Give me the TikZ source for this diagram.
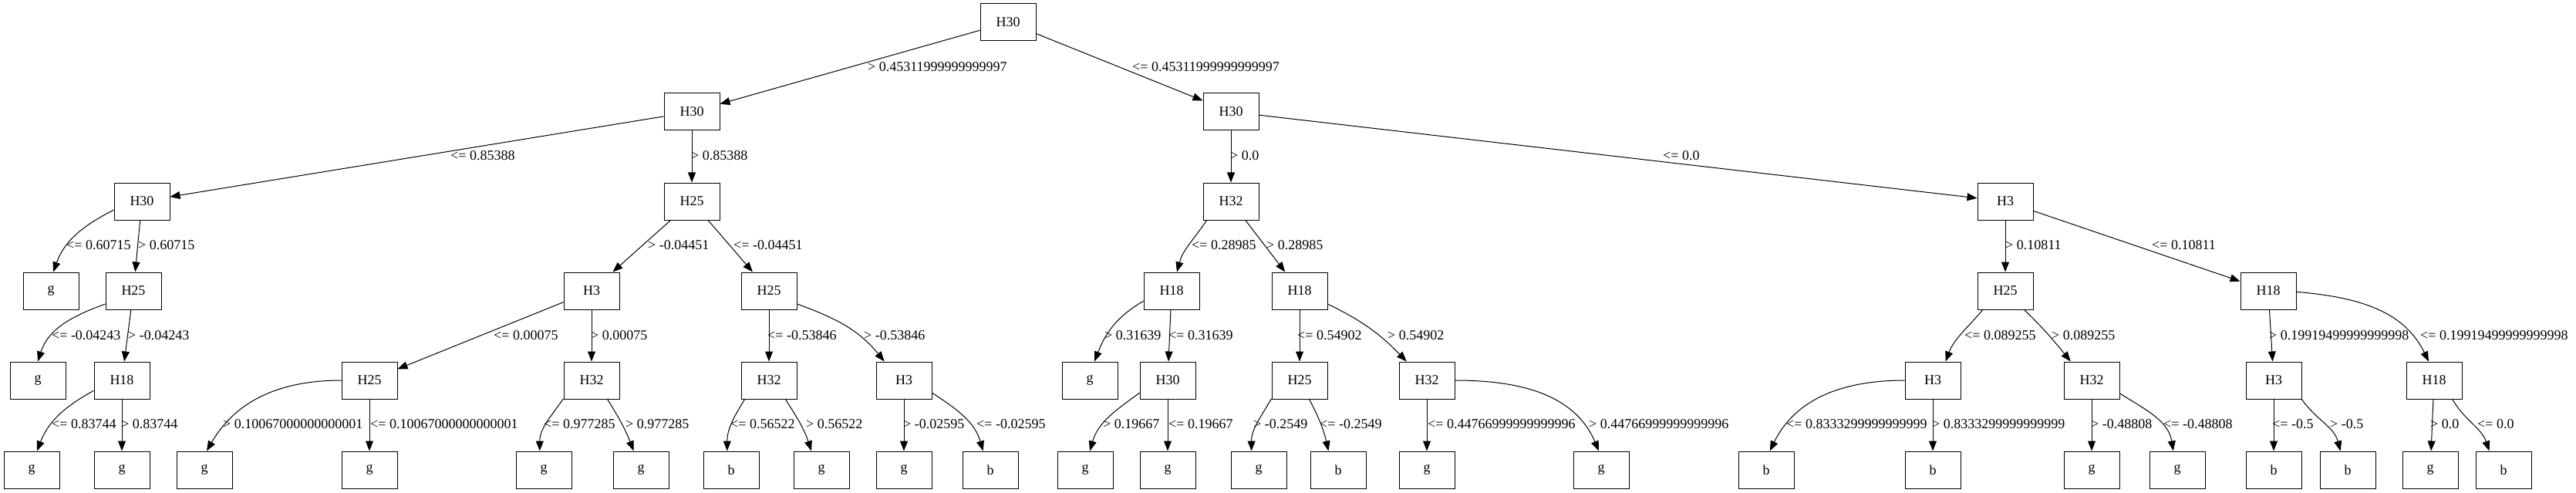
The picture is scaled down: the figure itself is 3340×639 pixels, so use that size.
\documentclass[tikz,border=0pt]{standalone}
\usepackage{fontspec}
\setmainfont{Liberation Serif}
\usetikzlibrary{arrows.meta}

\begin{document}
\begin{tikzpicture}[x=1pt,y=1pt,
		every node/.style={font=\fontsize{18}{21}\selectfont},
		box/.style={draw,rectangle,minimum width=72pt,minimum height=48pt,inner sep=0pt,line width=1pt},
		lbl/.style={anchor=west,inner sep=0pt},
		edge/.style={-{Triangle[length=13pt,width=10pt]},line width=1pt}]
		\useasboundingbox (0,0) rectangle (3340,-639);
		% tree nodes
		\node[box] (root) at (1307,-29) {H30};
		\node[box] (l1a) at (897,-145) {H30};
		\node[box] (l1b) at (1596,-145) {H30};
		\node[box] (l2a) at (184,-261) {H30};
		\node[box] (l2b) at (897,-261) {H25};
		\node[box] (l2c) at (1596,-261) {H32};
		\node[box] (l2d) at (2600,-261) {H3};
		\node[box] (l3a) at (66,-377) {g};
		\node[box] (l3b) at (173,-377) {H25};
		\node[box] (l3c) at (767,-377) {H3};
		\node[box] (l3d) at (997,-377) {H25};
		\node[box] (l3e) at (1519,-377) {H18};
		\node[box] (l3f) at (1685,-377) {H18};
		\node[box] (l3g) at (2600,-377) {H25};
		\node[box] (l3h) at (2941,-377) {H18};
		\node[box] (l4a) at (49,-493) {g};
		\node[box] (l4b) at (158,-493) {H18};
		\node[box] (l4c) at (479,-493) {H25};
		\node[box] (l4d) at (767,-493) {H32};
		\node[box] (l4e) at (997,-493) {H32};
		\node[box] (l4f) at (1172,-493) {H3};
		\node[box] (l4g) at (1413,-493) {g};
		\node[box] (l4h) at (1514,-493) {H30};
		\node[box] (l4i) at (1685,-493) {H25};
		\node[box] (l4j) at (1850,-493) {H32};
		\node[box] (l4k) at (2506,-493) {H3};
		\node[box] (l4l) at (2712,-493) {H32};
		\node[box] (l4m) at (2948,-493) {H3};
		\node[box] (l4n) at (3156,-493) {H18};
		\node[box] (l5a) at (41,-609) {g};
		\node[box] (l5b) at (158,-609) {g};
		\node[box] (l5c) at (265,-609) {g};
		\node[box] (l5d) at (479,-609) {g};
		\node[box] (l5e) at (705,-609) {g};
		\node[box] (l5f) at (831,-609) {g};
		\node[box] (l5g) at (948,-609) {b};
		\node[box] (l5h) at (1065,-609) {g};
		\node[box] (l5i) at (1172,-609) {g};
		\node[box] (l5j) at (1284,-609) {b};
		\node[box] (l5k) at (1407,-609) {g};
		\node[box] (l5l) at (1514,-609) {g};
		\node[box] (l5m) at (1632,-609) {g};
		\node[box] (l5n) at (1735,-609) {b};
		\node[box] (l5o) at (1850,-609) {g};
		\node[box] (l5p) at (2076,-609) {g};
		\node[box] (l5q) at (2290,-609) {b};
		\node[box] (l5r) at (2506,-609) {b};
		\node[box] (l5s) at (2712,-609) {g};
		\node[box] (l5t) at (2823,-609) {g};
		\node[box] (l5u) at (2948,-609) {b};
		\node[box] (l5v) at (3044,-609) {b};
		\node[box] (l5w) at (3151,-609) {g};
		\node[box] (l5x) at (3246,-609) {b};
		% edges
		\draw[edge] (root) -- (l1a);
		\draw[edge] (root) -- (l1b);
		\draw[edge] (l1a) -- (l2a);
		\draw[edge] (l1a) -- (l2b);
		\draw[edge] (l1b) -- (l2c);
		\draw[edge] (l1b) -- (l2d);
		\draw[edge] (l2a.197) to[out=207,in=70] (l3a.83);
		\draw[edge] (l2a) -- (l3b);
		\draw[edge] (l2b) -- (l3c);
		\draw[edge] (l2b) -- (l3d);
		\draw[edge] (l2c.218) to[out=236,in=75] (l3e.74);
		\draw[edge] (l2c) -- (l3f);
		\draw[edge] (l2d) -- (l3g);
		\draw[edge] (l2d) -- (l3h);
		\draw[edge] (l3b.205) to[out=200,in=72] (l4a.north);
		\draw[edge] (l3b) -- (l4b);
		\draw[edge] (l3c) -- (l4c);
		\draw[edge] (l3c) -- (l4d);
		\draw[edge] (l3d) -- (l4e);
		\draw[edge] (l3d.335) to[out=340,in=129] (l4f.136);
		\draw[edge] (l3e.200) to[out=210,in=69] (l4g.76);
		\draw[edge] (l3e) -- (l4h);
		\draw[edge] (l3f) -- (l4i);
		\draw[edge] (l3f.335) to[out=334,in=134] (l4j.137);
		\draw[edge] (l3g.220) to[out=230,in=69] (l4k.56);
		\draw[edge] (l3g.315) to[out=316,in=129] (l4l.138);
		\draw[edge] (l3h) -- (l4m);
		\draw[edge] (l3h.358) to[out=355,in=116] (l4n.106);
		\draw[edge] (l4b.200) to[out=209,in=69] (l5a.74);
		\draw[edge] (l4b) -- (l5b);
		\draw[edge] (l4c.west) to[out=180,in=60] (l5c.83);
		\draw[edge] (l4c) -- (l5d);
		\draw[edge] (l4d.213) to[out=235,in=90] (l5e.102);
		\draw[edge] (l4d.310) to[out=302,in=111] (l5f.111);
		\draw[edge] (l4e.218) to[out=238,in=90] (l5g.102);
		\draw[edge] (l4e.311) to[out=303,in=108] (l5h.118);
		\draw[edge] (l4f) -- (l5i);
		\draw[edge] (l4f.336) to[out=327,in=106] (l5j.111);
		\draw[edge] (l4h.204) to[out=216,in=74] (l5k.76);
		\draw[edge] (l4h) -- (l5l);
		\draw[edge] (l4i.213) to[out=240,in=90] (l5m.111);
		\draw[edge] (l4i.297) to[out=298,in=103] (l5n.117);
		\draw[edge] (l4j) -- (l5o);
		\draw[edge] (l4j.east) to[out=0,in=113] (l5p.97);
		\draw[edge] (l4k.west) to[out=180,in=64] (l5q.79);
		\draw[edge] (l4k) -- (l5r);
		\draw[edge] (l4l) -- (l5s);
		\draw[edge] (l4l.335) to[out=328,in=99] (l5t.102);
		\draw[edge] (l4m) -- (l5u);
		\draw[edge] (l4m.326) to[out=305,in=105] (l5v.111);
		\draw[edge] (l4n) -- (l5w);
		\draw[edge] (l4n.314) to[out=300,in=109] (l5x.127);
		% split labels
		\node[lbl] (t1a) at (1125,-87) {> 0.45311999999999997};
		\node[lbl] (t1b) at (1468,-87) {<= 0.45311999999999997};
		\node[lbl] (t2a) at (584,-202) {<= 0.85388};
		\node[lbl] (t2b) at (896,-202) {> 0.85388};
		\node[lbl] (t2c) at (1595,-202) {> 0.0};
		\node[lbl] (t2d) at (2156,-202) {<= 0.0};
		\node[lbl] (t3a) at (86,-318) {<= 0.60715};
		\node[lbl] (t3b) at (179,-318) {> 0.60715};
		\node[lbl] (t3c) at (840,-318) {> -0.04451};
		\node[lbl] (t3d) at (951,-318) {<= -0.04451};
		\node[lbl] (t3e) at (1545,-318) {<= 0.28985};
		\node[lbl] (t3f) at (1642,-318) {> 0.28985};
		\node[lbl] (t3g) at (2600,-318) {> 0.10811};
		\node[lbl] (t3h) at (2790,-318) {<= 0.10811};
		\node[lbl] (t4a) at (67,-435) {<= -0.04243};
		\node[lbl] (t4b) at (166,-435) {> -0.04243};
		\node[lbl] (t4c) at (640,-435) {<= 0.00075};
		\node[lbl] (t4d) at (766,-435) {> 0.00075};
		\node[lbl] (t4e) at (995,-435) {<= -0.53846};
		\node[lbl] (t4f) at (1120,-435) {> -0.53846};
		\node[lbl] (t4g) at (1432,-435) {> 0.31639};
		\node[lbl] (t4h) at (1515,-435) {<= 0.31639};
		\node[lbl] (t4i) at (1682,-435) {<= 0.54902};
		\node[lbl] (t4j) at (1799,-435) {> 0.54902};
		\node[lbl] (t4k) at (2547,-435) {<= 0.089255};
		\node[lbl] (t4l) at (2660,-435) {> 0.089255};
		\node[lbl] (t4m) at (2942,-435) {> 0.19919499999999998};
		\node[lbl] (t4n) at (3138,-435) {<= 0.19919499999999998};
		\node[lbl] (t5a) at (67,-550) {<= 0.83744};
		\node[lbl] (t5b) at (157,-550) {> 0.83744};
		\node[lbl] (t5c) at (289,-550) {> 0.10067000000000001};
		\node[lbl] (t5d) at (480,-550) {<= 0.10067000000000001};
		\node[lbl] (t5e) at (705,-550) {<= 0.977285};
		\node[lbl] (t5f) at (811,-550) {> 0.977285};
		\node[lbl] (t5g) at (947,-550) {<= 0.56522};
		\node[lbl] (t5h) at (1045,-550) {> 0.56522};
		\node[lbl] (t5i) at (1171,-550) {> -0.02595};
		\node[lbl] (t5j) at (1266,-550) {<= -0.02595};
		\node[lbl] (t5k) at (1430,-550) {> 0.19667};
		\node[lbl] (t5l) at (1515,-550) {<= 0.19667};
		\node[lbl] (t5m) at (1625,-550) {> -0.2549};
		\node[lbl] (t5n) at (1711,-550) {<= -0.2549};
		\node[lbl] (t5o) at (1851,-550) {<= 0.44766999999999996};
		\node[lbl] (t5p) at (2060,-550) {> 0.44766999999999996};
		\node[lbl] (t5q) at (2316,-550) {<= 0.8333299999999999};
		\node[lbl] (t5r) at (2505,-550) {> 0.8333299999999999};
		\node[lbl] (t5s) at (2711,-550) {> -0.48808};
		\node[lbl] (t5t) at (2805,-550) {<= -0.48808};
		\node[lbl] (t5u) at (2946,-550) {<= -0.5};
		\node[lbl] (t5v) at (3021,-550) {> -0.5};
		\node[lbl] (t5w) at (3151,-550) {> 0.0};
		\node[lbl] (t5x) at (3212,-550) {<= 0.0};
	\end{tikzpicture}
\end{document}
